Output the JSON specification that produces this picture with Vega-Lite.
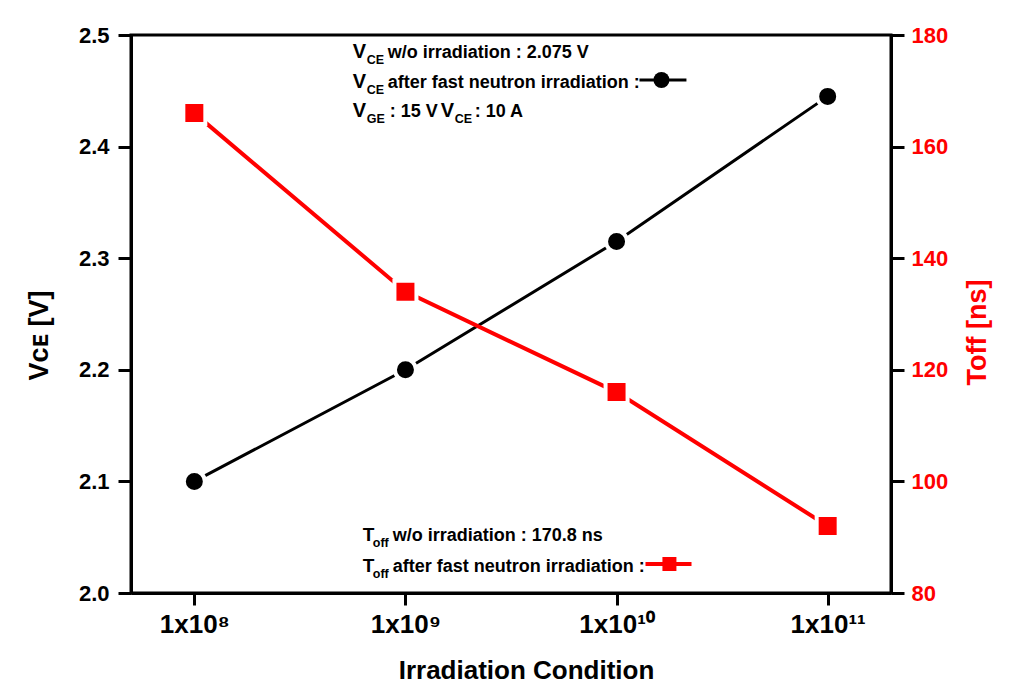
{
  "$schema": "https://vega.github.io/schema/vega-lite/v6.json",
  "width": 760,
  "height": 558,
  "autosize": {"type": "none"},
  "padding": {"left": 131, "top": 35, "right": 134, "bottom": 96},
  "background": "white",
  "config": {
    "font": "Liberation Sans",
    "view": {"stroke": "black", "strokeWidth": 3},
    "axis": {
      "domainColor": "black", "domainWidth": 3, "tickColor": "black", "tickWidth": 3, "tickSize": 13,
      "grid": false, "labelFont": "Liberation Sans", "labelFontWeight": "bold", "titleFont": "Liberation Sans",
      "titleFontWeight": "bold", "labelColor": "black", "titleColor": "black"
    },
    "text": {"font": "Liberation Sans", "fontWeight": "bold", "color": "black"}
  },
  "datasets": {
    "vce": [{"x": 100000000, "y": 2.1}, {"x": 1000000000, "y": 2.2}, {"x": 10000000000, "y": 2.315}, {"x": 100000000000, "y": 2.445}],
    "toff": [{"x": 100000000, "y": 166}, {"x": 1000000000, "y": 134}, {"x": 10000000000, "y": 116}, {"x": 100000000000, "y": 92}]
  },
  "encoding": {
    "x": {
      "field": "x", "type": "quantitative",
      "scale": {"type": "log", "domain": [50118723, 199526231497]},
      "axis": {
        "title": "Irradiation Condition", "values": [100000000, 1000000000, 10000000000, 100000000000],
        "labelExpr": "round(log(datum.value)/LN10) == 8 ? '1x10⁸' : round(log(datum.value)/LN10) == 9 ? '1x10⁹' : round(log(datum.value)/LN10) == 10 ? '1x10¹⁰' : '1x10¹¹'",
        "labelFontSize": 26, "labelBaseline": "alphabetic", "labelPadding": 27, "tickSize": 12,
        "titleFontSize": 26, "titleX": 395, "titleY": 85, "titleBaseline": "alphabetic", "titleAlign": "center"
      }
    }
  },
  "layer": [
    {
      "encoding": {
        "y": {
          "field": "y", "type": "quantitative", "scale": {"domain": [2.0, 2.5]},
          "axis": {
            "orient": "left", "title": "Vᴄᴇ [V]", "values": [2.0, 2.1, 2.2, 2.3, 2.4, 2.5], "format": ".1f",
            "labelFontSize": 22, "labelPadding": 9, "titleFontSize": 27, "titleAngle": -90,
            "titleX": -84, "titleY": 300, "titleBaseline": "alphabetic", "titleAlign": "center"
          }
        }
      },
      "layer": [
        {"data": {"name": "vce"}, "mark": {"type": "line", "color": "black", "strokeWidth": 3}},
        {"data": {"name": "vce"}, "mark": {"type": "point", "shape": "circle", "filled": true, "fill": "black", "stroke": "white", "strokeWidth": 4, "size": 441, "opacity": 1}},
        {"data": {"values": [{"x": 12840000000, "y": 2.4597}, {"x": 21430000000, "y": 2.4597}]}, "mark": {"type": "line", "color": "black", "strokeWidth": 3}},
        {"data": {"values": [{"x": 16320000000, "y": 2.4597}]}, "mark": {"type": "point", "shape": "circle", "filled": true, "fill": "black", "strokeWidth": 0, "size": 256, "opacity": 1}},
        {
          "data": {"values": [
            {"x": 563000000, "y": 2.4794, "t": "V"}, {"x": 563000000, "y": 2.4525, "t": "V"},
            {"x": 563000000, "y": 2.4265, "t": "V"}, {"x": 1469000000, "y": 2.4265, "t": "V"}
          ]},
          "mark": {"type": "text", "align": "left", "baseline": "alphabetic", "fontSize": 20},
          "encoding": {"text": {"field": "t"}}
        },
        {
          "data": {"values": [
            {"x": 563000000, "y": 2.4794, "t": "CE"}, {"x": 563000000, "y": 2.4525, "t": "CE"},
            {"x": 563000000, "y": 2.4265, "t": "GE"}, {"x": 1469000000, "y": 2.4265, "t": "CE"}
          ]},
          "mark": {"type": "text", "align": "left", "baseline": "alphabetic", "fontSize": 12.5, "dx": 14, "dy": 6},
          "encoding": {"text": {"field": "t"}}
        },
        {
          "data": {"values": [
            {"x": 563000000, "y": 2.4794, "t": "w/o irradiation : 2.075 V"},
            {"x": 563000000, "y": 2.4525, "t": "after fast neutron irradiation :"},
            {"x": 575400000, "y": 2.4265, "t": ": 15 V"},
            {"x": 1452000000, "y": 2.4265, "t": ": 10 A"}
          ]},
          "mark": {"type": "text", "align": "left", "baseline": "alphabetic", "fontSize": 18, "dx": 35},
          "encoding": {"text": {"field": "t"}}
        }
      ]
    },
    {
      "encoding": {
        "y": {
          "field": "y", "type": "quantitative", "scale": {"domain": [80, 180]},
          "axis": {
            "orient": "right", "title": "Toff [ns]", "values": [80, 100, 120, 140, 160, 180],
            "labelColor": "#ff0000", "titleColor": "#ff0000", "labelFontSize": 22, "labelPadding": 7,
            "titleFontSize": 27, "titleAngle": -90, "titleX": 94, "titleY": 297,
            "titleBaseline": "alphabetic", "titleAlign": "center"
          }
        }
      },
      "layer": [
        {"data": {"name": "toff"}, "mark": {"type": "line", "color": "#ff0000", "strokeWidth": 4}},
        {"data": {"name": "toff"}, "mark": {"type": "point", "shape": "square", "filled": true, "fill": "#ff0000", "stroke": "white", "strokeWidth": 4, "size": 484, "opacity": 1}},
        {"data": {"values": [{"x": 13710000000, "y": 85.2}, {"x": 22650000000, "y": 85.2}]}, "mark": {"type": "line", "color": "#ff0000", "strokeWidth": 4}},
        {"data": {"values": [{"x": 17800000000, "y": 85.2}]}, "mark": {"type": "point", "shape": "square", "filled": true, "fill": "#ff0000", "strokeWidth": 0, "size": 196, "opacity": 1}},
        {
          "data": {"values": [{"x": 628000000, "y": 89.32, "t": "T"}, {"x": 628000000, "y": 83.76, "t": "T"}]},
          "mark": {"type": "text", "align": "left", "baseline": "alphabetic", "fontSize": 19},
          "encoding": {"text": {"field": "t"}}
        },
        {
          "data": {"values": [{"x": 628000000, "y": 89.32, "t": "off"}, {"x": 628000000, "y": 83.76, "t": "off"}]},
          "mark": {"type": "text", "align": "left", "baseline": "alphabetic", "fontSize": 12.5, "dx": 10, "dy": 6},
          "encoding": {"text": {"field": "t"}}
        },
        {
          "data": {"values": [
            {"x": 628000000, "y": 89.32, "t": "w/o irradiation : 170.8 ns"},
            {"x": 628000000, "y": 83.76, "t": "after fast neutron irradiation :"}
          ]},
          "mark": {"type": "text", "align": "left", "baseline": "alphabetic", "fontSize": 18, "dx": 30},
          "encoding": {"text": {"field": "t"}}
        }
      ]
    }
  ],
  "resolve": {"scale": {"y": "independent"}}
}
